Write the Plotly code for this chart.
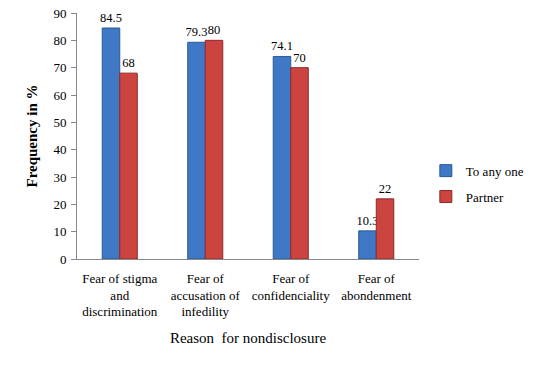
import plotly.graph_objects as go

categories = ["Fear of stigma<br>and<br>discrimination", "Fear of<br>accusation of<br>infedility",
              "Fear of<br>confidenciality", "Fear of<br>abondenment"]
to_any_one = [84.5, 79.3, 74.1, 10.3]
partner = [68, 80, 70, 22]
y_ticks = [0, 10, 20, 30, 40, 50, 60, 70, 80, 90]

font_family = "Liberation Serif"

fig = go.Figure()
fig.add_trace(go.Bar(
    x=categories, y=to_any_one, name="To any one", legendgroup="a",
    marker=dict(color="#3F78C4", line=dict(color="#2B5A96", width=1)),
    text=[str(v) for v in to_any_one], textposition="outside", textangle=0,
    constraintext="none",
    textfont=dict(family=font_family, size=12.5, color="black"), cliponaxis=False,
))
fig.add_trace(go.Bar(
    x=categories, y=partner, name="Partner", legendgroup="b",
    marker=dict(color="#CC4440", line=dict(color="#8E2A28", width=1)),
    text=[str(v) for v in partner], textposition="outside", textangle=0,
    constraintext="none",
    textfont=dict(family=font_family, size=12.5, color="black"), cliponaxis=False,
))

fig.update_layout(
    width=535, height=369,
    margin=dict(l=77, r=116, t=13, b=110, autoexpand=False),
    paper_bgcolor="white", plot_bgcolor="white",
    barmode="group", bargap=0.59, bargroupgap=0,
    font=dict(family=font_family, size=12, color="black"),
    showlegend=True,
    legend=dict(x=1.02, y=0.42, xanchor="left", yanchor="top",
                font=dict(family=font_family, size=13), itemwidth=30,
                tracegroupgap=6, bgcolor="rgba(0,0,0,0)"),
    xaxis=dict(
        automargin=False,
        showline=True, linecolor="#888888", linewidth=1,
        ticks="", showgrid=False, ticklabelstandoff=7,
        tickfont=dict(family=font_family, size=13),
        title=dict(text="Reason  for nondisclosure", font=dict(family=font_family, size=15), standoff=14),
    ),
    yaxis=dict(
        automargin=False,
        range=[0, 90], tickvals=y_ticks,
        showline=True, linecolor="#888888", linewidth=1,
        ticks="outside", ticklen=5, tickcolor="#888888",
        showgrid=False, zeroline=False, ticklabelstandoff=2,
        tickfont=dict(family=font_family, size=13),
        title=dict(text="<b>Frequency in %</b>", font=dict(family=font_family, size=15), standoff=12),
    ),
)

fig.write_html("out.html", config={"displayModeBar": False},
               post_script="document.body.style.margin='0';")
